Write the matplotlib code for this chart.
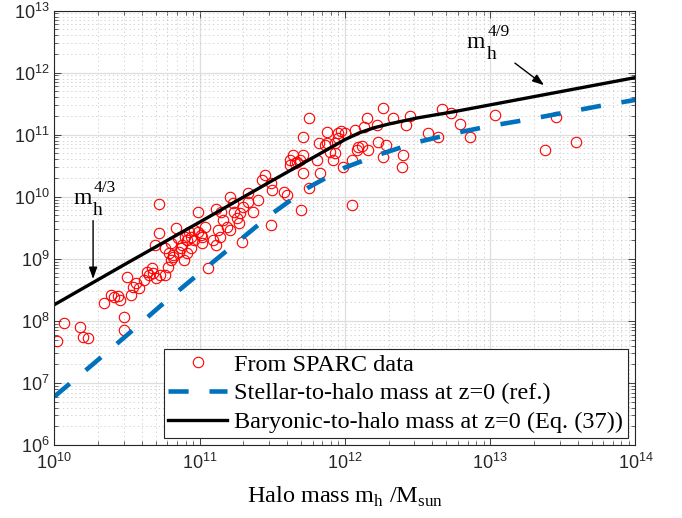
import numpy as np
import matplotlib
matplotlib.use("Agg")
import matplotlib.pyplot as plt
from matplotlib.ticker import LogLocator, FuncFormatter, NullFormatter

# SPARC galaxies, log10 values
sparc_log_mh = [10.02, 10.07, 10.18, 10.20, 10.23, 10.34, 10.39, 10.41, 10.44, 10.45,
                10.48, 10.48, 10.50, 10.53, 10.54, 10.56, 10.58, 10.62, 10.64, 10.65,
                10.67, 10.68, 10.70, 10.73, 10.76, 10.78, 10.80, 10.82, 10.86, 10.89,
                10.79, 10.69, 10.72, 10.76, 10.80, 10.84, 10.85, 10.88, 10.91, 10.94,
                10.96, 10.99, 11.01, 11.02, 10.91, 10.94, 10.72, 10.82, 10.87, 10.90,
                10.93, 10.96, 10.99, 11.02, 11.04, 11.06, 11.09, 11.11, 11.11, 11.14,
                11.13, 11.15, 11.16, 11.19, 11.21, 11.23, 11.24, 11.26, 11.27, 11.29,
                11.30, 11.33, 11.33, 11.37, 11.40, 11.43, 11.45, 11.49, 11.50, 11.58,
                11.60, 11.62, 11.66, 11.70, 11.28, 11.21, 11.49, 11.64, 11.67, 11.69,
                11.71, 11.71, 11.62, 11.71, 11.75, 11.75, 11.83, 11.82, 11.88, 11.86,
                11.90, 11.92, 11.93, 11.95, 11.95, 12.00, 11.99, 11.93, 11.81, 12.05,
                12.07, 12.08, 12.09, 12.13, 12.15, 12.16, 12.22, 12.23, 12.26, 12.28,
                12.26, 12.33, 12.39, 12.42, 12.45, 12.67, 12.73, 12.79, 12.57, 12.64,
                12.86, 13.03, 13.45, 13.38, 13.59, 12.40, 12.05, 11.97, 11.88, 12.12]
sparc_log_mb = [7.68, 7.97, 7.90, 7.74, 7.73, 8.29, 8.42, 8.39, 8.40, 8.34,
                8.06, 7.86, 8.71, 8.42, 8.55, 8.61, 8.53, 8.66, 8.79, 8.74,
                8.85, 8.77, 8.69, 8.74, 8.74, 8.87, 8.98, 9.03, 9.11, 8.98,
                9.10, 9.22, 9.42, 9.18, 9.26, 9.50, 9.34, 9.22, 9.30, 9.35,
                9.47, 9.43, 9.38, 9.26, 9.10, 9.18, 9.88, 9.06, 9.18, 9.35,
                9.43, 9.30, 9.76, 9.35, 9.51, 8.85, 9.30, 9.80, 9.22, 9.35,
                9.47, 9.76, 9.63, 9.51, 10.00, 9.90, 9.76, 9.66, 9.58, 9.27,
                9.84, 9.92, 10.06, 9.76, 9.95, 10.27, 10.35, 9.55, 10.11, 10.08,
                10.03, 10.51, 10.54, 9.79, 9.74, 9.47, 10.22, 10.67, 10.56, 10.59,
                10.67, 10.38, 10.59, 10.96, 11.27, 10.14, 10.38, 10.87, 11.04, 10.83,
                10.72, 10.59, 10.71, 11.03, 10.95, 11.03, 10.48, 10.87, 10.59, 9.87,
                11.08, 10.75, 10.80, 11.12, 11.27, 10.75, 11.16, 10.88, 10.64, 10.83,
                11.43, 11.27, 10.48, 11.16, 11.30, 11.41, 11.35, 11.17, 11.03, 10.96,
                10.96, 11.32, 11.29, 10.75, 10.88, 10.67, 10.59, 11.06, 10.87, 10.81]

# stellar-to-halo relation at z=0 (reference curve)
stellar_log_mh = [10.0, 10.25, 10.5, 10.75, 11.0, 11.25, 11.5, 11.75, 12.0,
                  12.25, 12.5, 12.75, 13.0, 13.25, 13.5, 13.75, 14.0]
stellar_log_ms = [6.78, 7.27, 7.77, 8.28, 8.77, 9.25, 9.73, 10.15, 10.47,
                  10.69, 10.88, 11.02, 11.14, 11.24, 11.35, 11.46, 11.56]

# baryonic-to-halo relation, Eq. (37)
baryon_log_mh = [10.0, 10.5, 11.0, 11.5, 11.75, 12.0, 12.1, 12.2, 12.3,
                 12.4, 12.5, 12.75, 13.0, 13.5, 14.0]
baryon_log_mb = [8.26, 8.93, 9.59, 10.26, 10.59, 10.92, 11.03, 11.11, 11.17,
                 11.22, 11.27, 11.37, 11.48, 11.70, 11.92]

serif = 'Liberation Serif'
plt.rcParams['font.family'] = 'Liberation Sans'
plt.rcParams['lines.scale_dashes'] = False

fig = plt.figure(figsize=(6.82, 5.18), dpi=100)
ax = fig.add_axes([0.0796, 0.1409, 0.8522, 0.8388])

ax.loglog(10**np.array(sparc_log_mh), 10**np.array(sparc_log_mb), 'o',
          mfc='none', mec='red', ms=7.5, mew=0.8, label='From SPARC data')
ax.loglog(10**np.array(stellar_log_mh), 10**np.array(stellar_log_ms),
          color='#0072BD', lw=3.3, dashes=(14.5, 15), label='Stellar-to-halo mass at z=0 (ref.)')
ax.loglog(10**np.array(baryon_log_mh), 10**np.array(baryon_log_mb),
          color='k', lw=2.4, label='Baryonic-to-halo mass at z=0 (Eq. (37))')

ax.set_xlim(1e10, 1e14)
ax.set_ylim(1e6, 1e13)

fmt = FuncFormatter(lambda v, p: r'$\mathregular{10^{%d}}$' % round(np.log10(v)))
for axis in (ax.xaxis, ax.yaxis):
    axis.set_major_locator(LogLocator(base=10, numticks=20))
    axis.set_minor_locator(LogLocator(base=10, subs=np.arange(2, 10), numticks=20))
    axis.set_major_formatter(fmt)
    axis.set_minor_formatter(NullFormatter())

ax.tick_params(which='both', direction='in', top=True, right=True, colors='#262626',
               labelsize=13)
ax.tick_params(which='major', length=5, width=0.6)
ax.tick_params(which='minor', length=3, width=0.5)
ax.tick_params(axis='x', pad=6)
for s in ax.spines.values():
    s.set_color('#262626')
    s.set_linewidth(0.8)

ax.grid(True, which='major', color='#dedede', lw=0.9, ls='-')
ax.grid(True, which='minor', color='#c4c4c4', lw=0.5, ls=(0, (1, 2)))
ax.set_axisbelow(True)

ax.set_xlabel(r'Halo mass m$_\mathregular{h}$ /M$_\mathregular{sun}$',
              family=serif, fontsize=17.5, labelpad=8)


# slope labels: m, subscript h and superscript exponent placed by hand (MATLAB style)
def slope_label(lx, ly, power):
    ax.text(10**lx, 10**ly, 'm', family=serif, fontsize=17, va='baseline')
    ax.annotate('h', (10**lx, 10**ly), xytext=(14, -8), textcoords='offset points',
                family=serif, fontsize=14, va='baseline')
    ax.annotate(power, (10**lx, 10**ly), xytext=(15, 8.5), textcoords='offset points',
                family=serif, fontsize=12.5, va='baseline')


arrow = dict(arrowstyle='-|>,head_length=0.7,head_width=0.25', color='k', lw=1.0)
slope_label(10.13, 9.89, '4/3')
ax.annotate('', xy=(10**10.267, 10**8.63), xytext=(10**10.267, 10**9.66), arrowprops=arrow)
slope_label(12.84, 12.40, '4/9')
ax.annotate('', xy=(10**13.386, 10**11.77), xytext=(10**13.155, 10**12.18), arrowprops=arrow)

leg = ax.legend(loc='lower right', bbox_to_anchor=(0.987, 0.016), borderaxespad=0,
                prop={'family': serif, 'size': 17.5}, fancybox=False, framealpha=1,
                edgecolor='#262626', handlelength=2.4, labelspacing=0.28,
                borderpad=0.2, handletextpad=0.3)
leg.get_frame().set_linewidth(0.8)

fig.savefig('out.png', dpi=100)
